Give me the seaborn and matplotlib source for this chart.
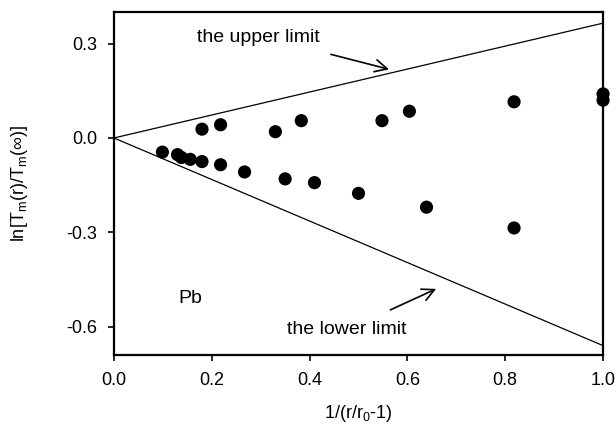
import numpy as np
import pandas as pd
import seaborn as sns
import matplotlib.pyplot as plt

x_vals = [0.099, 0.13, 0.138, 0.156, 0.18, 0.18, 0.218, 0.218, 0.267, 0.33,
          0.35, 0.383, 0.41, 0.50, 0.548, 0.604, 0.639, 0.818, 0.818, 1.0, 1.0]
y_vals = [-0.045, -0.053, -0.062, -0.068, -0.075, 0.028, 0.042, -0.085, -0.108, 0.02,
          -0.13, 0.055, -0.142, -0.176, 0.055, 0.085, -0.22, 0.115, -0.286, 0.14, 0.12]

# limit lines
limit_x = [0.0, 1.0]
upper_y = [0.0, 0.365]
lower_y = [0.0, -0.66]

df = pd.DataFrame({'x': x_vals, 'y': y_vals})

sns.set_style("white")
plt.rcParams['font.family'] = ['Liberation Sans', 'DejaVu Sans']
plt.rcParams['mathtext.default'] = 'regular'
# seaborn greys the text; the original is plain black
plt.rcParams['text.color'] = 'black'
plt.rcParams['axes.labelcolor'] = 'black'
plt.rcParams['xtick.color'] = 'black'
plt.rcParams['ytick.color'] = 'black'

fig = plt.figure(figsize=(6.16, 4.33), dpi=100)
ax = fig.add_axes([0.185, 0.18, 0.794, 0.792])

sns.lineplot(x=limit_x, y=upper_y, ax=ax, color='black', linewidth=0.9)
sns.lineplot(x=limit_x, y=lower_y, ax=ax, color='black', linewidth=0.9)
sns.scatterplot(data=df, x='x', y='y', ax=ax, color='black', s=90,
                edgecolor='none', clip_on=False, zorder=5)

ax.set_xlim(0.0, 1.0)
ax.set_ylim(-0.69, 0.4)
ax.set_xticks([0.0, 0.2, 0.4, 0.6, 0.8, 1.0])
ax.set_xticklabels(['0.0', '0.2', '0.4', '0.6', '0.8', '1.0'])
ax.set_yticks([-0.6, -0.3, 0.0, 0.3])
ax.set_yticklabels(['-0.6', '-0.3', '0.0', '0.3'])
ax.tick_params(axis='both', direction='out', length=4, width=1.2,
               labelsize=13, pad=8, left=True, bottom=True)
for sp in ax.spines.values():
    sp.set_linewidth(1.6)
    sp.set_color('black')

ax.set_xlabel('1/(r/r$_0$-1)', fontsize=13, labelpad=10)
ax.set_ylabel('ln[T$_m$(r)/T$_m$(∞)]', fontsize=13, labelpad=26)

ax.text(0.295, 0.32, 'the upper limit', fontsize=14, ha='center', va='center')
ax.annotate('', xy=(0.568, 0.216), xytext=(0.438, 0.268),
            arrowprops=dict(arrowstyle='->', color='black', lw=1.2,
                            mutation_scale=22))
ax.text(0.476, -0.61, 'the lower limit', fontsize=14, ha='center', va='center')
ax.annotate('', xy=(0.664, -0.476), xytext=(0.56, -0.55),
            arrowprops=dict(arrowstyle='->', color='black', lw=1.2,
                            mutation_scale=22))
ax.text(0.156, -0.51, 'Pb', fontsize=14, ha='center', va='center')

plt.savefig('out.png', dpi=100)
